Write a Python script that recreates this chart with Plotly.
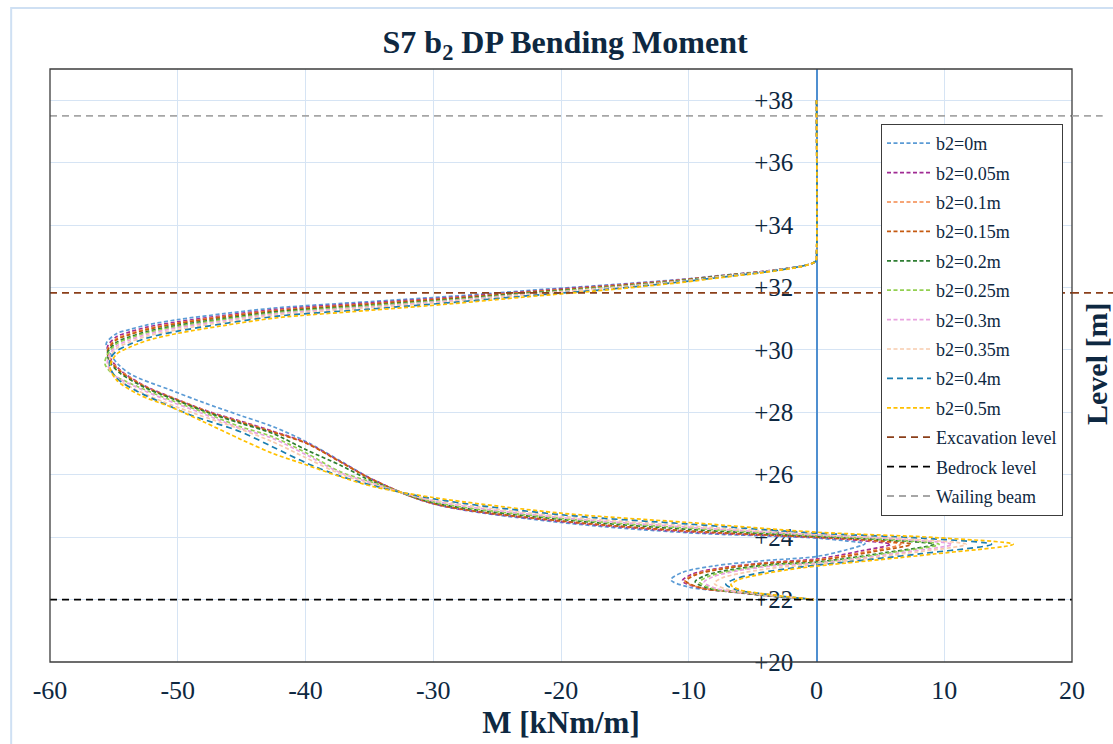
import plotly.graph_objects as go

# ---------------- data ----------------
series_names = ["b2=0m", "b2=0.05m", "b2=0.1m", "b2=0.15m", "b2=0.2m",
                "b2=0.25m", "b2=0.3m", "b2=0.35m", "b2=0.4m", "b2=0.5m"]

# shared upper part of every curve: M [kNm/m]
m_head = [0.0, 0.0, -0.05, -0.3, -1.3, -4.1, -6.4, -10.8, -16.4, -22.7,
          -28.5, -35.2, -42.2, -46.4, -50.0, -52.4, -53.8, -54.8]

# b2 = 0 m
lvl_b2_000 = [38.0, 33.0, 32.85, 32.78, 32.68, 32.52, 32.43, 32.25, 32.08, 31.90, 31.72, 31.54, 31.35, 31.16, 30.97, 30.80, 30.65, 30.52,
              30.2, 29.9, 29.55, 29.2, 28.72, 28.3, 27.9, 27.55, 27.05, 26.45, 25.84, 25.07, 24.47, 24.14,
              23.97, 23.88, 23.79, 23.59, 23.38,
              23.25, 23.08, 22.87, 22.63, 22.40, 22.25, 22.10, 22.0]
m_b2_000 = [-55.6, -55.3, -54.7, -53.6, -50.6, -47.9, -45.1, -42.6, -39.9, -37.3, -34.7, -30.0, -20.0, -10.0,
            0.0, 2.3, 3.8, 2.3, 0.0,
            -4.0, -8.0, -10.5, -11.4, -10.0, -6.8, -3.4, -0.2]

# b2 = 0.05 m
lvl_b2_005 = [38.0, 33.0, 32.85, 32.78, 32.67, 32.52, 32.42, 32.24, 32.06, 31.87, 31.68, 31.50, 31.30, 31.10, 30.90, 30.73, 30.57, 30.42,
              30.1, 29.75, 29.35, 28.85, 28.42, 28.0, 27.72, 27.4, 27.02, 26.43, 25.84, 25.07, 24.5, 24.17,
              23.99, 23.89, 23.77, 23.56, 23.30,
              23.19, 23.02, 22.82, 22.60, 22.38, 22.24, 22.10, 22.0]
m_b2_005 = [-55.5, -55.3, -54.5, -52.6, -50.1, -47.4, -45.1, -42.6, -39.9, -37.3, -34.7, -30.0, -20.0, -10.0,
            0.0, 3.5, 5.8, 3.5, 0.0,
            -3.7, -7.4, -9.7, -10.5, -9.2, -6.3, -3.2, -0.2]

# b2 = 0.1 m
lvl_b2_010 = [38.0, 33.0, 32.85, 32.78, 32.67, 32.51, 32.42, 32.23, 32.04, 31.85, 31.66, 31.47, 31.27, 31.07, 30.86, 30.68, 30.51, 30.36,
              30.0, 29.7, 29.3, 28.8, 28.4, 28.0, 27.70, 27.38, 27.01, 26.42, 25.83, 25.08, 24.52, 24.19,
              24.0, 23.90, 23.77, 23.54, 23.27,
              23.18, 23.01, 22.81, 22.59, 22.38, 22.24, 22.10, 22.0]
m_b2_010 = [-55.5, -55.3, -54.4, -52.4, -50.0, -47.5, -45.1, -42.6, -39.9, -37.3, -34.7, -30.0, -20.0, -10.0,
            0.0, 4.0, 6.6, 4.0, 0.0,
            -3.6, -7.2, -9.5, -10.3, -9.1, -6.2, -3.1, -0.2]

# b2 = 0.15 m
lvl_b2_015 = [38.0, 33.0, 32.85, 32.78, 32.67, 32.51, 32.41, 32.22, 32.03, 31.84, 31.65, 31.46, 31.25, 31.05, 30.84, 30.65, 30.48, 30.32,
              29.95, 29.65, 29.3, 28.8, 28.4, 28.0, 27.68, 27.37, 27.0, 26.42, 25.83, 25.08, 24.52, 24.2,
              24.0, 23.90, 23.77, 23.53, 23.25,
              23.17, 23.0, 22.80, 22.59, 22.37, 22.23, 22.10, 22.0]
m_b2_015 = [-55.5, -55.3, -54.5, -52.5, -50.1, -47.6, -45.1, -42.6, -39.9, -37.3, -34.7, -30.0, -20.0, -10.0,
            0.0, 4.4, 7.4, 4.4, 0.0,
            -3.6, -7.1, -9.4, -10.2, -9.0, -6.1, -3.1, -0.2]

# b2 = 0.2 m
lvl_b2_020 = [38.0, 33.0, 32.85, 32.78, 32.67, 32.50, 32.41, 32.21, 32.01, 31.82, 31.62, 31.42, 31.22, 31.00, 30.79, 30.59, 30.41, 30.24,
              29.9, 29.6, 29.25, 28.8, 28.4, 28.0, 27.65, 27.33, 26.79, 26.31, 25.78, 25.11, 24.57, 24.25,
              24.03, 23.91, 23.77, 23.51, 23.20,
              23.13, 22.96, 22.77, 22.57, 22.36, 22.22, 22.09, 22.0]
m_b2_020 = [-55.5, -55.3, -54.5, -52.6, -50.2, -47.7, -45.1, -42.6, -39.9, -37.3, -34.7, -30.0, -20.0, -10.0,
            0.0, 5.5, 9.2, 5.5, 0.0,
            -3.3, -6.7, -8.7, -9.5, -8.4, -5.7, -2.9, -0.2]

# b2 = 0.25 m
lvl_b2_025 = [38.0, 33.0, 32.85, 32.78, 32.67, 32.50, 32.40, 32.20, 32.00, 31.80, 31.60, 31.40, 31.19, 30.97, 30.75, 30.55, 30.37, 30.19,
              29.85, 29.55, 29.2, 28.8, 28.4, 28.0, 27.54, 27.22, 26.69, 26.10, 25.75, 25.13, 24.6, 24.29,
              24.05, 23.92, 23.77, 23.50, 23.18,
              23.11, 22.94, 22.75, 22.56, 22.35, 22.22, 22.09, 22.0]
m_b2_025 = [-55.5, -55.7, -55.0, -53.0, -50.6, -48.0, -45.1, -42.6, -39.9, -37.3, -34.7, -30.0, -20.0, -10.0,
            0.0, 5.8, 9.6, 5.8, 0.0,
            -3.2, -6.4, -8.4, -9.15, -8.1, -5.5, -2.7, -0.2]

# b2 = 0.3 m
lvl_b2_030 = [38.0, 33.0, 32.85, 32.78, 32.67, 32.50, 32.39, 32.19, 31.98, 31.78, 31.58, 31.37, 31.16, 30.93, 30.71, 30.50, 30.31, 30.12,
              29.8, 29.55, 29.2, 28.8, 28.4, 28.0, 27.49, 27.17, 26.63, 26.07, 25.72, 25.16, 24.63, 24.32,
              24.07, 23.94, 23.77, 23.49, 23.16,
              23.09, 22.92, 22.73, 22.55, 22.34, 22.21, 22.09, 22.0]
m_b2_030 = [-55.4, -55.5, -55.0, -53.2, -50.9, -48.3, -45.1, -42.6, -39.9, -37.3, -34.7, -30.0, -20.0, -10.0,
            0.0, 6.4, 10.6, 6.4, 0.0,
            -3.1, -6.2, -8.1, -8.8, -7.7, -5.3, -2.6, -0.2]

# b2 = 0.35 m
lvl_b2_035 = [38.0, 33.0, 32.85, 32.78, 32.67, 32.49, 32.39, 32.18, 31.97, 31.76, 31.55, 31.34, 31.12, 30.89, 30.65, 30.44, 30.24, 30.05,
              29.75, 29.5, 29.15, 28.75, 28.35, 27.95, 27.46, 27.06, 26.53, 26.03, 25.68, 25.19, 24.67, 24.36,
              24.10, 23.95, 23.77, 23.48, 23.13,
              23.04, 22.87, 22.69, 22.52, 22.33, 22.20, 22.09, 22.0]
m_b2_035 = [-55.3, -55.4, -55.0, -53.4, -51.2, -48.6, -45.1, -42.6, -39.9, -37.3, -34.7, -30.0, -20.0, -10.0,
            0.0, 7.0, 11.7, 7.0, 0.0,
            -2.8, -5.6, -7.4, -8.0, -7.0, -4.8, -2.4, -0.2]

# b2 = 0.4 m
lvl_b2_040 = [38.0, 33.0, 32.85, 32.78, 32.67, 32.49, 32.38, 32.17, 31.94, 31.73, 31.52, 31.30, 31.08, 30.84, 30.60, 30.38, 30.17, 29.96,
              29.7, 29.45, 29.1, 28.7, 28.3, 27.9, 27.38, 26.90, 26.37, 25.96, 25.65, 25.23, 24.72, 24.42,
              24.13, 23.97, 23.77, 23.47, 23.10,
              22.98, 22.81, 22.64, 22.49, 22.31, 22.19, 22.08, 22.0]
m_b2_040 = [-55.3, -55.3, -54.8, -53.3, -51.2, -48.9, -45.1, -42.6, -39.9, -37.3, -34.7, -30.0, -20.0, -10.0,
            0.0, 8.2, 13.7, 8.2, 0.0,
            -2.5, -5.0, -6.5, -7.1, -6.2, -4.3, -2.1, -0.2]

# b2 = 0.5 m
lvl_b2_050 = [38.0, 33.0, 32.85, 32.78, 32.66, 32.48, 32.37, 32.15, 31.92, 31.70, 31.48, 31.26, 31.03, 30.78, 30.53, 30.30, 30.08, 29.86,
              29.47, 29.04, 28.56, 28.18, 27.7, 27.14, 26.69, 26.31, 25.94, 25.62, 25.27, 24.77, 24.47,
              24.16, 23.99, 23.77, 23.46, 23.07,
              22.95, 22.78, 22.62, 22.47, 22.30, 22.18, 22.08, 22.0]
m_b2_050 = [-55.3, -54.8, -53.0, -50.6, -48.0, -45.1, -42.6, -39.9, -37.3, -34.7, -30.0, -20.0, -10.0,
            0.0, 9.2, 15.4, 9.2, 0.0,
            -2.35, -4.7, -6.2, -6.7, -5.9, -4.0, -2.0, -0.2]

series_levels = [lvl_b2_000, lvl_b2_005, lvl_b2_010, lvl_b2_015, lvl_b2_020,
                 lvl_b2_025, lvl_b2_030, lvl_b2_035, lvl_b2_040, lvl_b2_050]
series_tails = [m_b2_000, m_b2_005, m_b2_010, m_b2_015, m_b2_020,
                m_b2_025, m_b2_030, m_b2_035, m_b2_040, m_b2_050]
series_colors = ["#5B9BD5", "#A02B93", "#F4884A", "#C55A11", "#2E7D32",
                 "#92D050", "#E9A2E0", "#F8CBAD", "#1A7DB0", "#FFC000"]

ref_names = ["Excavation level", "Bedrock level", "Wailing beam"]
ref_levels = [31.83, 22.0, 37.5]
ref_colors = ["#8B3F1A", "#000000", "#A6A6A6"]
ref_x = [-60, 20]

x_ticks = [-60, -50, -40, -30, -20, -10, 0, 10, 20]
x_tick_text = ["-60", "-50", "-40", "-30", "-20", "-10", "0", "10", "20"]

TXT = "#0E2841"
FONT = "Liberation Serif"

fig = go.Figure()
for name, lv, tail, col in zip(series_names, series_levels, series_tails, series_colors):
    dash = "6px,4px" if name == "b2=0.4m" else "4px,2.5px"
    fig.add_trace(go.Scatter(
        x=m_head + tail, y=lv, mode="lines", name=name,
        line=dict(color=col, width=1.7, dash=dash, shape="spline", smoothing=0.9),
        legendgroup=name,
    ))
for name, lv, col in zip(ref_names, ref_levels, ref_colors):
    fig.add_trace(go.Scatter(
        x=ref_x, y=[lv, lv], mode="lines", name=name,
        line=dict(color=col, width=1.8, dash="7px,5px"), legendgroup=name,
    ))

shapes = [
    # plot-area frame
    dict(type="rect", xref="paper", yref="paper", x0=0, x1=1, y0=0, y1=1,
         line=dict(color="#3C3C3C", width=1.3), layer="above"),
    # chart-area border
    dict(type="rect", xref="paper", yref="paper", x0=-0.038, x1=1.2, y0=-0.3, y1=1.103,
         line=dict(color="#CFE0F3", width=2), layer="below"),
    # reference lines running past the plot area on the right
    dict(type="line", xref="paper", yref="y", x0=1, x1=1.05, y0=ref_levels[0], y1=ref_levels[0],
         line=dict(color=ref_colors[0], width=1.8, dash="7px,5px")),
    dict(type="line", xref="paper", yref="y", x0=1, x1=1.03, y0=ref_levels[2], y1=ref_levels[2],
         line=dict(color=ref_colors[2], width=1.8, dash="7px,5px")),
]

fig.update_layout(
    width=1113, height=744,
    margin=dict(l=50, r=41, t=69, b=82, autoexpand=False),
    paper_bgcolor="white", plot_bgcolor="white",
    font=dict(family=FONT, color=TXT),
    title=dict(text="S7 b<sub>2</sub> DP Bending Moment", x=0.504, xref="paper",
               xanchor="center", y=1 - 42 / 744, yanchor="middle",
               font=dict(family=FONT, size=32, color=TXT, weight="bold")),
    xaxis=dict(range=[-60, 20], tickvals=x_ticks, ticktext=x_tick_text, showgrid=True,
               gridcolor="#D6E4F4", gridwidth=1, zeroline=False, showline=False, ticks="",
               tickfont=dict(family=FONT, size=26, color=TXT), ticklabelstandoff=10,
               title=dict(text="M [kNm/m]", standoff=6,
                          font=dict(family=FONT, size=31, color=TXT, weight="bold"))),
    yaxis=dict(range=[20, 39], tick0=20, dtick=2, tickformat="+d",
               anchor="free", position=767 / 1022, side="left", layer="below traces",
               showline=True, linecolor="#4F8FD0", linewidth=1.5,
               showgrid=True, gridcolor="#D6E4F4", gridwidth=1, zeroline=False, ticks="",
               tickfont=dict(family=FONT, size=25, color=TXT), ticklabelstandoff=18),
    legend=dict(xref="container", yref="container", x=881 / 1113, y=1 - 124 / 744,
                xanchor="left", yanchor="top", bgcolor="white",
                bordercolor="#3C3C3C", borderwidth=1, maxheight=600,
                itemwidth=44,
                font=dict(family=FONT, size=18, color=TXT), tracegroupgap=3,
                traceorder="grouped"),
    shapes=shapes,
    annotations=[dict(text="<b>Level [m]</b>", xref="paper", yref="paper",
                      x=(1096 - 50) / 1022, y=(662 - 364) / 593, showarrow=False,
                      textangle=-90, font=dict(family=FONT, size=30, color=TXT),
                      xanchor="center", yanchor="middle")],
    showlegend=True,
)

fig.write_html("out.html")
